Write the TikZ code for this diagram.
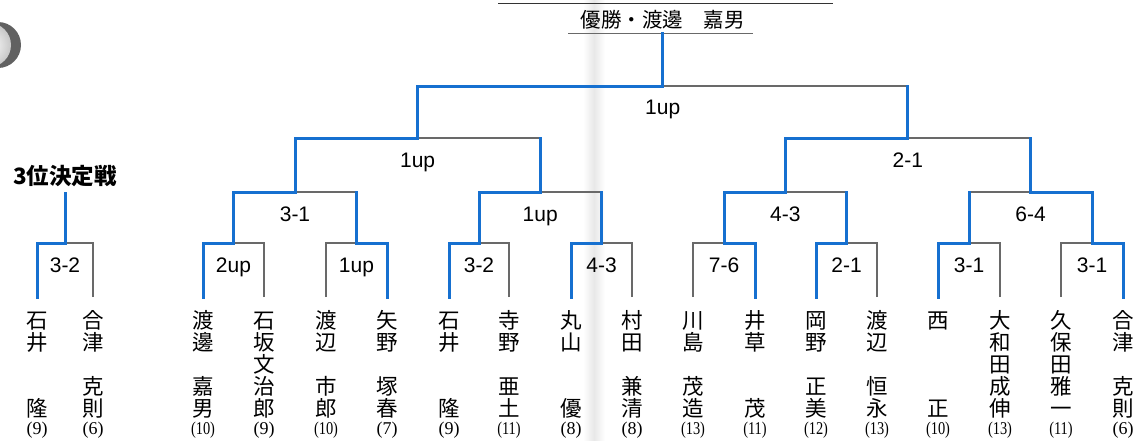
\documentclass[tikz,border=0pt]{standalone}
\usepackage{fontspec}
\usepackage{graphicx}
\setmainfont{Liberation Serif}
\newfontfamily\cjk{Noto Sans CJK JP}
\newfontfamily\scfont{Liberation Sans}
\newfontfamily\nmfont{Liberation Serif}
\definecolor{bbl}{RGB}{22,112,208}
\definecolor{gln}{RGB}{105,105,105}
\newcommand\rowbox[1]{\hbox to 24pt{\hss\rule[-4pt]{0pt}{22pt}#1\hss}}
\newcommand\pname[6]{\vbox{\offinterlineskip\cjk\fontsize{21.5}{22}\selectfont
  \rowbox{#1}\rowbox{#2}\rowbox{#3}\rowbox{#4}\rowbox{#5}\kern-4pt
  \hbox to 24pt{\hss\rule[-4pt]{0pt}{22pt}\nmfont\fontsize{18}{20}\selectfont #6\hss}}}
\newcommand\one[1]{(#1)}
\newcommand\two[1]{\scalebox{0.8}[1]{(#1)}}
\tikzset{
  win/.style={draw=bbl, line width=3pt, line cap=rect, line join=miter},
  lose/.style={draw=gln, line width=1.2pt},
  player/.style={anchor=north, inner xsep=0pt, inner ysep=13pt},
  score/.style={anchor=base, inner sep=0pt, font=\scfont\fontsize{21}{21}\selectfont},
}
\begin{document}
\begin{tikzpicture}[x=1pt,y=-1pt]
\useasboundingbox (0,0) rectangle (1145,440);
% page fold and sphere (scan)
\shade[left color=white, right color=white, middle color=black!9] (583,0) rectangle (605,440);
\fill[black!62] (-2,45) circle[radius=23pt];
\shade[inner color=white, outer color=black!22] (-11,45) circle[radius=22pt];

% top rule and title
\coordinate (tl1) at (498,3.5);
\coordinate (tl2) at (833,3.5);
\draw[line width=1.6pt, black!80] (tl1) -- (tl2);
\node[anchor=base, inner sep=0pt, font=\cjk\fontsize{20.5}{20}\selectfont] (title) at (662.75,27) {優勝・渡邊　嘉男};
\coordinate (ul1) at (568,33);
\coordinate (ul2) at (753,33);
\draw[draw=gln, line width=1pt] (ul1) -- (ul2);
\coordinate (champ) at (662.75,33);

% players
\node[player] (n1) at (203,297) {\pname{渡}{邊}{}{嘉}{男}{\two{10}}};
\node[player] (n2) at (264,297) {\pname{石}{坂}{文}{治}{郎}{\one{9}}};
\node[player] (n3) at (326,297) {\pname{渡}{辺}{}{市}{郎}{\two{10}}};
\node[player] (n4) at (387,297) {\pname{矢}{野}{}{塚}{春}{\one{7}}};
\node[player] (n5) at (449,297) {\pname{石}{井}{}{}{隆}{\one{9}}};
\node[player] (n6) at (509,297) {\pname{寺}{野}{}{亜}{土}{\two{11}}};
\node[player] (n7) at (571,297) {\pname{丸}{山}{}{}{優}{\one{8}}};
\node[player] (n8) at (632,297) {\pname{村}{田}{}{兼}{清}{\one{8}}};
\node[player] (n9) at (693,297) {\pname{川}{島}{}{茂}{造}{\two{13}}};
\node[player] (n10) at (755,297) {\pname{井}{草}{}{}{茂}{\two{11}}};
\node[player] (n11) at (816,297) {\pname{岡}{野}{}{正}{美}{\two{12}}};
\node[player] (n12) at (877,297) {\pname{渡}{辺}{}{恒}{永}{\two{13}}};
\node[player] (n13) at (938,297) {\pname{西}{}{}{}{正}{\two{10}}};
\node[player] (n14) at (1000,297) {\pname{大}{和}{田}{成}{伸}{\two{13}}};
\node[player] (n15) at (1061,297) {\pname{久}{保}{田}{雅}{一}{\two{11}}};
\node[player] (n16) at (1123,297) {\pname{合}{津}{}{克}{則}{\one{6}}};
\node[player] (t1) at (37,297) {\pname{石}{井}{}{}{隆}{\one{9}}};
\node[player] (t2) at (93,297) {\pname{合}{津}{}{克}{則}{\one{6}}};

% junctions
\coordinate (m1) at (233.5,243);
\coordinate (m2) at (356.5,243);
\coordinate (m3) at (479,243);
\coordinate (m4) at (601.5,243);
\coordinate (m5) at (724,243);
\coordinate (m6) at (846.5,243);
\coordinate (m7) at (969,243);
\coordinate (m8) at (1092,243);
\coordinate (q1) at (295,192);
\coordinate (q2) at (540.25,192);
\coordinate (q3) at (785.25,192);
\coordinate (q4) at (1030.5,192);
\coordinate (h1) at (417.6,138);
\coordinate (h2) at (907.9,138);
\coordinate (fin) at (662.75,86);
\coordinate (e) at (65,243);
\coordinate (etop) at (65,193);

% scores
\node[score] (a1) at (233.5,272) {2up};
\node[score] (a2) at (356.5,272) {1up};
\node[score] (a3) at (479,272) {3-2};
\node[score] (a4) at (601.5,272) {4-3};
\node[score] (a5) at (724,272) {7-6};
\node[score] (a6) at (846.5,272) {2-1};
\node[score] (a7) at (969,272) {3-1};
\node[score] (a8) at (1092,272) {3-1};
\node[score] (b1) at (295,221) {3-1};
\node[score] (b2) at (540.25,221) {1up};
\node[score] (b3) at (785.25,221) {4-3};
\node[score] (b4) at (1030.5,221) {6-4};
\node[score] (c1) at (417.6,167) {1up};
\node[score] (c2) at (907.9,167) {2-1};
\node[score] (d1) at (662.75,114) {1up};
\node[score] (e1) at (65,272) {3-2};
\node[anchor=base, inner sep=0pt, font=\cjk\bfseries\fontsize{22.5}{22}\selectfont] (third) at (65,184) {3位決定戦};

% losing lines (gray)
\draw[lose] (n2.north) |- (m1);
\draw[lose] (n3.north) |- (m2);
\draw[lose] (n6.north) |- (m3);
\draw[lose] (n8.north) |- (m4);
\draw[lose] (n9.north) |- (m5);
\draw[lose] (n12.north) |- (m6);
\draw[lose] (n14.north) |- (m7);
\draw[lose] (n15.north) |- (m8);
\draw[lose] (t2.north) |- (e);
\draw[lose] (m2 |- q1) -- (q1);
\draw[lose] (m4 |- q2) -- (q2);
\draw[lose] (m6 |- q3) -- (q3);
\draw[lose] (m7 |- q4) -- (q4);
\draw[lose] (q2 |- h1) -- (h1);
\draw[lose] (q4 |- h2) -- (h2);
\draw[lose] (h2 |- fin) -- (fin);

% winning lines (blue)
\draw[win] (n1.north) |- (m1);
\draw[win] (n4.north) |- (m2);
\draw[win] (n5.north) |- (m3);
\draw[win] (n7.north) |- (m4);
\draw[win] (n10.north) |- (m5);
\draw[win] (n11.north) |- (m6);
\draw[win] (n13.north) |- (m7);
\draw[win] (n16.north) |- (m8);
\draw[win] (t1.north) |- (e);
\draw[win] (e) -- (etop);
\draw[win] (m1) |- (q1);
\draw[win] (m2) -- (m2 |- q1);
\draw[win] (m3) |- (q2);
\draw[win] (m4) -- (m4 |- q2);
\draw[win] (m5) |- (q3);
\draw[win] (m6) -- (m6 |- q3);
\draw[win] (m8) |- (q4);
\draw[win] (m7) -- (m7 |- q4);
\draw[win] (q1) |- (h1);
\draw[win] (q2) -- (q2 |- h1);
\draw[win] (q3) |- (h2);
\draw[win] (q4) -- (q4 |- h2);
\draw[win] (h1) |- (fin);
\draw[win] (h2) -- (h2 |- fin);
\draw[win] (fin) -- (champ);
\end{tikzpicture}
\end{document}
